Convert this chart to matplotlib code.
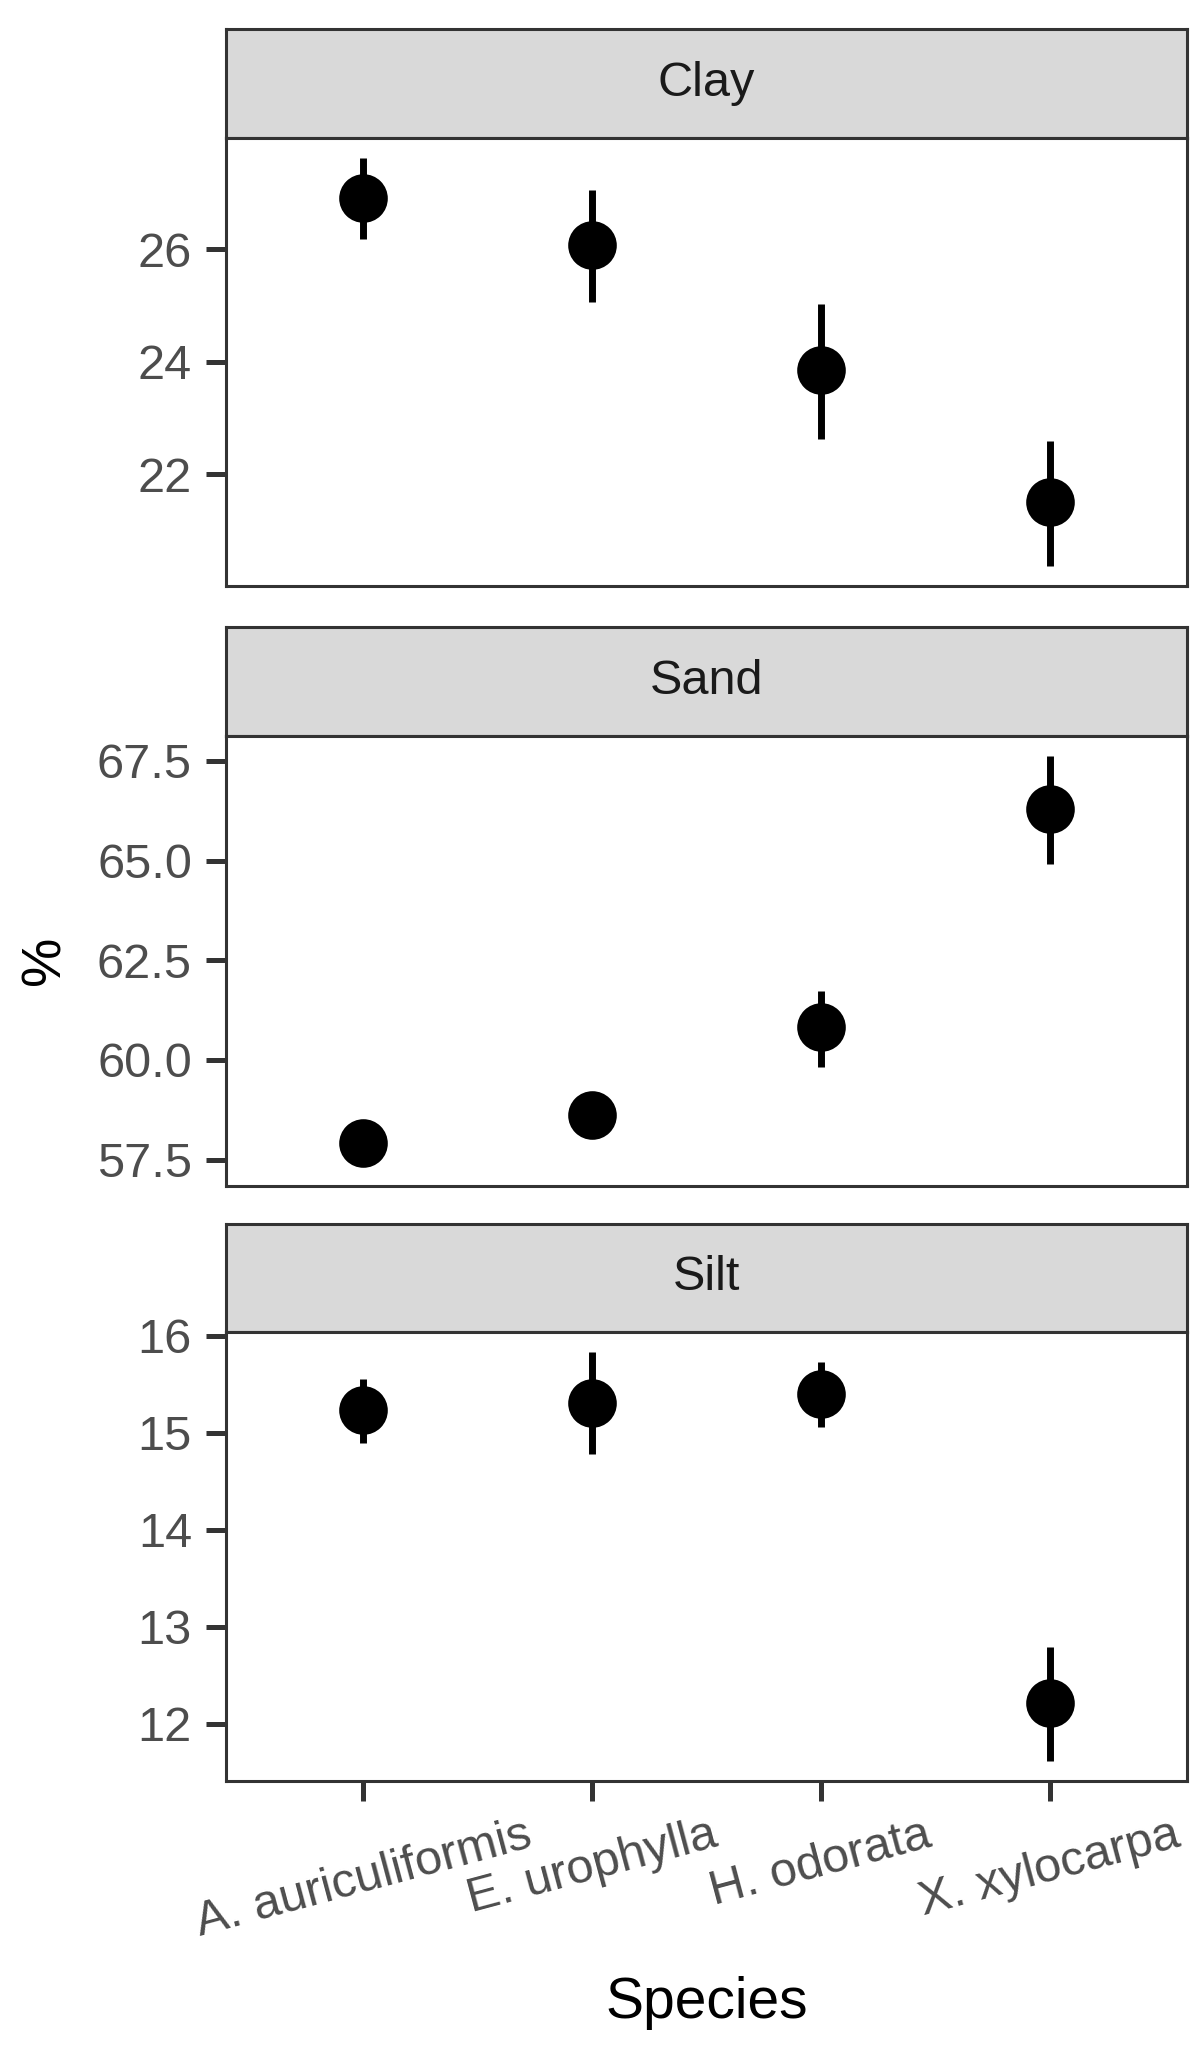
import matplotlib
matplotlib.use('Agg')
import matplotlib.pyplot as plt
import numpy as np

plt.rcParams['font.family'] = ['Liberation Sans', 'DejaVu Sans']

species = ['A. auriculiformis', 'E. urophylla', 'H. odorata', 'X. xylocarpa']
facets = ['Clay', 'Sand', 'Silt']

clay_mean = [26.92, 26.07, 23.86, 21.51]
clay_lo = [26.19, 25.06, 22.62, 20.37]
clay_hi = [27.62, 27.06, 25.03, 22.58]

sand_mean = [57.92, 58.61, 60.82, 66.30]
sand_lo = [57.35, 58.20, 59.83, 64.91]
sand_hi = [58.45, 59.00, 61.72, 67.61]

silt_mean = [15.24, 15.31, 15.40, 12.21]
silt_lo = [14.90, 14.78, 15.06, 11.62]
silt_hi = [15.56, 15.83, 15.73, 12.79]

clay_ticks = [22, 24, 26]
sand_ticks = [57.5, 60.0, 62.5, 65.0, 67.5]
silt_ticks = [12, 13, 14, 15, 16]

W, H = 1204, 2048
EDGE = '#333333'


def frac_box(x0, y0, x1, y1):
    # pixel box (top-left origin) -> figure fraction rect
    return [x0 / W, 1 - y1 / H, (x1 - x0) / W, (y1 - y0) / H]


def draw_strip(fig, box, label):
    ax = fig.add_axes(frac_box(*box))
    ax.set_facecolor('#D9D9D9')
    ax.set_xticks([])
    ax.set_yticks([])
    for s in ax.spines.values():
        s.set_color(EDGE)
        s.set_linewidth(2.2)
    ax.text(0.5, 0.5, label, transform=ax.transAxes, ha='center', va='center',
            fontsize=35, color='#1A1A1A')


def draw_panel(fig, box, mean, lo, hi, ticks, fmt, show_x):
    ax = fig.add_axes(frac_box(*box))
    x = np.arange(1, len(species) + 1)
    mean, lo, hi = np.array(mean), np.array(lo), np.array(hi)
    ax.vlines(x, lo, hi, color='black', linewidth=5)
    ax.plot(x, mean, 'o', color='black', markersize=35, markeredgewidth=0)
    dmin, dmax = lo.min(), hi.max()
    pad = 0.05 * (dmax - dmin)
    ax.set_ylim(dmin - pad, dmax + pad)
    ax.set_xlim(0.4, len(species) + 0.6)
    ax.set_yticks(ticks)
    ax.set_yticklabels([fmt.format(t) for t in ticks])
    ax.set_xticks(x)
    ax.tick_params(axis='both', colors=EDGE, labelcolor='#4D4D4D',
                   labelsize=35, width=3.6, length=14.5)
    ax.tick_params(axis='y', pad=10)
    if show_x:
        ax.set_xticklabels(species, rotation=15, ha='center', va='top')
        ax.tick_params(axis='x', pad=8)
    else:
        ax.set_xticklabels([])
        ax.tick_params(axis='x', length=0)
    for s in ax.spines.values():
        s.set_color(EDGE)
        s.set_linewidth(2.2)
    return ax


fig = plt.figure(figsize=(W / 100, H / 100), dpi=100)

left, right = 226, 1187
layout = [
    (29, 138, 586),
    (627, 736, 1186),
    (1224, 1332, 1781),
]
series = [
    (clay_mean, clay_lo, clay_hi, clay_ticks, '{:g}'),
    (sand_mean, sand_lo, sand_hi, sand_ticks, '{:.1f}'),
    (silt_mean, silt_lo, silt_hi, silt_ticks, '{:g}'),
]

for i, (name, (st, pt, pb), (m, lo, hi, ticks, fmt)) in enumerate(zip(facets, layout, series)):
    draw_strip(fig, (left, st, right, pt), name)
    draw_panel(fig, (left, pt, right, pb), m, lo, hi, ticks, fmt, show_x=(i == 2))

fig.text(46 / W, 1 - 960 / H, '%', rotation=90, ha='center', va='center',
         fontsize=40, color='black')
fig.text((left + right) / 2 / W, 1 - 2018 / H, 'Species', ha='center', va='baseline',
         fontsize=41, color='black')

fig.savefig('out.png', dpi=100)
